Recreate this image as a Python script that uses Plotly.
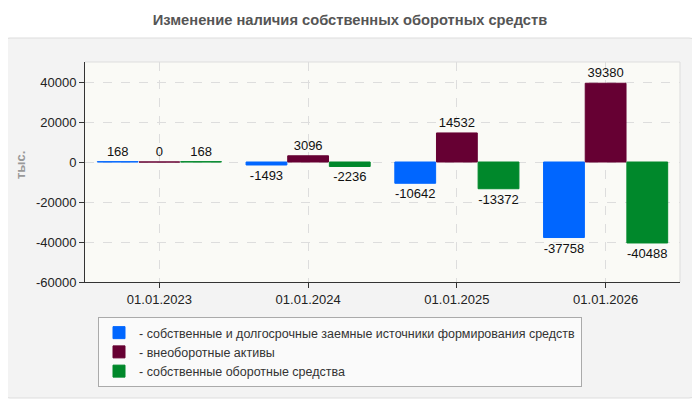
import plotly.graph_objects as go

# dates on the x axis
dates = ["01.01.2023", "01.01.2024", "01.01.2025", "01.01.2026"]

# series values, тыс.
own_and_longterm = [168, -1493, -10642, -37758]
noncurrent_assets = [0, 3096, 14532, 39380]
own_working_capital = [168, -2236, -13372, -40488]

series_names = [
    "- собственные и долгосрочные заемные источники формирования средств",
    "- внеоборотные активы",
    "- собственные оборотные средства",
]
series_colors = ["#0066FF", "#660033", "#00882B"]

fig = go.Figure()

for name, values, color in zip(series_names,
                               [own_and_longterm, noncurrent_assets, own_working_capital],
                               series_colors):
    fig.add_trace(go.Bar(
        x=dates,
        y=values,
        name=name,
        marker=dict(color=color, line=dict(color=color, width=1)),
        text=[str(v) for v in values],
        textposition="outside",
        textfont=dict(size=13, color="#111111"),
        cliponaxis=False,
    ))

# the page body adds an 8px offset, so the figure is 8px smaller
FW, FH = 692, 392
OFF = 8

# outer rounded panel, in paper units (plot area is 595 x 220 px)
W, H = 595.0, 220.0
def px(x, y):
    return (x - 85) / W, (282 - y) / H

x0, y1 = px(2, 38)
x1, y0 = px(697, 398)
rx, ry = 8 / W, 8 / H
panel_path = (
    f"M{x0 + rx},{y1} L{x1 - rx},{y1} Q{x1},{y1} {x1},{y1 - ry} "
    f"L{x1},{y0 + ry} Q{x1},{y0} {x1 - rx},{y0} "
    f"L{x0 + rx},{y0} Q{x0},{y0} {x0},{y0 + ry} "
    f"L{x0},{y1 - ry} Q{x0},{y1} {x0 + rx},{y1} Z"
)

ylab_x, ylab_y = px(20, 165)

fig.update_layout(
    width=FW,
    height=FH,
    margin=dict(l=85 - OFF, r=20, t=62 - OFF, b=118, autoexpand=False),
    paper_bgcolor="white",
    plot_bgcolor="rgba(0,0,0,0)",
    font=dict(family="Liberation Sans, Arial, sans-serif", size=13, color="#222222"),
    title=dict(
        text="<b>Изменение наличия собственных оборотных средств</b>",
        x=(350 - OFF) / FW, xref="container", xanchor="center",
        y=1 - (20 - OFF) / FH, yref="container", yanchor="middle",
        font=dict(size=14.7, color="#555555"),
    ),
    barmode="group",
    bargap=0.16,
    bargroupgap=0.02,
    showlegend=True,
    legend=dict(
        x=(98 - 85) / W, y=(282 - 317) / H,
        xanchor="left", yanchor="top",
        bgcolor="#fafafa",
        bordercolor="#aaaaaa",
        borderwidth=1,
        font=dict(size=12.5, color="#333333"),
        itemwidth=30,
        tracegroupgap=0,
        traceorder="normal",
    ),
    shapes=[
        dict(type="path", path=panel_path, xref="paper", yref="paper",
             fillcolor="#f3f3f3", line=dict(color="#dddddd", width=1), layer="below"),
        dict(type="rect", x0=0, x1=1, y0=0, y1=1, xref="paper", yref="paper",
             fillcolor="#fafaf6", line=dict(width=0), layer="below"),
        dict(type="path", path="M0,1 L1,1 L1,0", xref="paper", yref="paper",
             line=dict(color="#dddddd", width=1), layer="above"),
    ],
    annotations=[
        dict(text="<b>тыс.</b>", x=ylab_x, y=ylab_y, xref="paper", yref="paper",
             textangle=-90, showarrow=False, xanchor="center", yanchor="middle",
             font=dict(size=13, color="#999999")),
    ],
)

fig.update_xaxes(
    automargin=False,
    showline=True, linecolor="#333333", linewidth=1,
    ticks="outside", ticklen=5, tickcolor="#333333",
    showgrid=True, gridcolor="#dddddd", griddash="dash",
    tickfont=dict(size=13, color="#222222"),
)
fig.update_yaxes(
    automargin=False,
    range=[-60000, 50000],
    tickvals=[-60000, -40000, -20000, 0, 20000, 40000],
    ticktext=["-60000", "-40000", "-20000", "0", "20000", "40000"],
    showline=True, linecolor="#333333", linewidth=1,
    ticks="outside", ticklen=5, tickcolor="#333333",
    showgrid=True, gridcolor="#dddddd", griddash="dash",
    zeroline=False,
    tickfont=dict(size=13, color="#222222"),
)

fig.write_html("out.html")
